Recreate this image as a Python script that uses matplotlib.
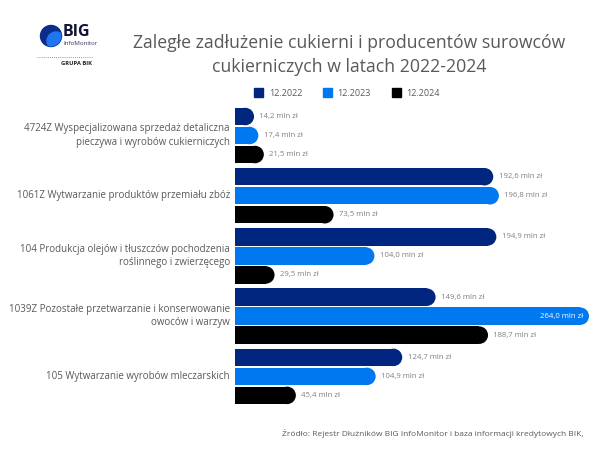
import matplotlib
matplotlib.use('Agg')
import matplotlib.pyplot as plt
from matplotlib.patches import Ellipse, Circle, Patch

categories = [
    '4724Z Wyspecjalizowana sprzedaż detaliczna\npieczywa i wyrobów cukierniczych',
    '1061Z Wytwarzanie produktów przemiału zbóż',
    '104 Produkcja olejów i tłuszczów pochodzenia\nroślinnego i zwierzęcego',
    '1039Z Pozostałe przetwarzanie i konserwowanie\nowoców i warzyw',
    '105 Wytwarzanie wyrobów mleczarskich',
]
series_names = ['12.2022', '12.2023', '12.2024']
values_2022 = [14.2, 192.6, 194.9, 149.6, 124.7]
values_2023 = [17.4, 196.8, 104.0, 264.0, 104.9]
values_2024 = [21.5, 73.5, 29.5, 188.7, 45.4]
series_values = [values_2022, values_2023, values_2024]
colors = ['#002680', '#0078f0', '#000000']

title = 'Zaległe zadłużenie cukierni i producentów surowców\ncukierniczych w latach 2022-2024'
source = 'Źródło: Rejestr Dłużników BIG InfoMonitor i baza informacji kredytowych BIK,'

plt.rcParams['font.family'] = ['Open Sans', 'DejaVu Sans']
TEXT = '#595959'
VAL = '#808080'

W, H = 604, 449
fig = plt.figure(figsize=(W / 100, H / 100), dpi=100)


def px_axes(x0, y0, x1, y1):
    # axes from pixel box (top-left origin)
    return fig.add_axes([x0 / W, 1 - y1 / H, (x1 - x0) / W, (y1 - y0) / H])


ax_l, ax_t, ax_r, ax_b = 235, 104, 600, 410
ax = px_axes(ax_l, ax_t, ax_r, ax_b)
xmax = 272.2
ytop, ybot = -0.66, 15.45
ax.set_xlim(0, xmax)
ax.set_ylim(ybot, ytop)
ax.axis('off')

px_x = (ax_r - ax_l) / xmax
px_y = (ax_b - ax_t) / (ybot - ytop)
group_step = 3.17
bar_h = 0.92
r_px = bar_h * px_y / 2
r = r_px / px_x

for s, vals in enumerate(series_values):
    for g, v in enumerate(vals):
        y = g * group_step + s
        ax.barh(y, v - r, height=bar_h, color=colors[s], linewidth=0)
        ax.add_patch(Ellipse((v - r, y), 2 * r, bar_h, color=colors[s], linewidth=0))
        label = f'{v:.1f}'.replace('.', ',') + ' mln zł'
        if v > 250:
            ax.text(v - 4, y, label, ha='right', va='center', fontsize=5.6, color='white')
        else:
            ax.text(v + 4, y, label, ha='left', va='center', fontsize=5.6, color=VAL)

for g, cat in enumerate(categories):
    fig.text(230 / W, 1 - (ax_t + (g * group_step + 1 - ytop) * px_y) / H, cat,
             ha='right', va='center', multialignment='right', fontsize=7, color=TEXT,
             linespacing=1.3)

fig.text(349 / W, 1 - 55 / H, title, ha='center', va='center', fontsize=12.7,
         color=TEXT, linespacing=1.5)

handles = [Patch(color=c) for c in colors]
fig.legend(handles, series_names, loc='center', bbox_to_anchor=(347 / W, 1 - 93 / H),
           ncol=3, frameon=False, fontsize=6.5, handlelength=1.0, handleheight=1.0,
           handletextpad=0.6, columnspacing=2.3, labelcolor=TEXT)

fig.text(583 / W, 1 - 433 / H, source, ha='right', va='center', fontsize=6, color=TEXT)

# logo
lg = px_axes(30, 15, 100, 70)
lg.set_xlim(30, 100)
lg.set_ylim(70, 15)
lg.axis('off')
outer = Circle((51, 36), 10.5, color='#0b2d8a')
lg.add_patch(outer)
inner = Circle((56, 41), 9, color='#1f74f0')
lg.add_patch(inner)
inner.set_clip_path(outer)
lg.text(63, 32, 'BIG', fontsize=11.5, fontweight='bold', color='#111133', va='center')
lg.text(63.5, 43.5, 'InfoMonitor', fontsize=4.4, color='#333355', va='center')
lg.plot([37, 92], [57, 57], linestyle=(0, (1, 1.5)), color='#777777', linewidth=0.6)
lg.text(92, 63.5, 'GRUPA BIK', fontsize=4.2, fontweight='bold', color='#222222',
        va='center', ha='right')

fig.savefig('out.png', dpi=100, facecolor='white')
